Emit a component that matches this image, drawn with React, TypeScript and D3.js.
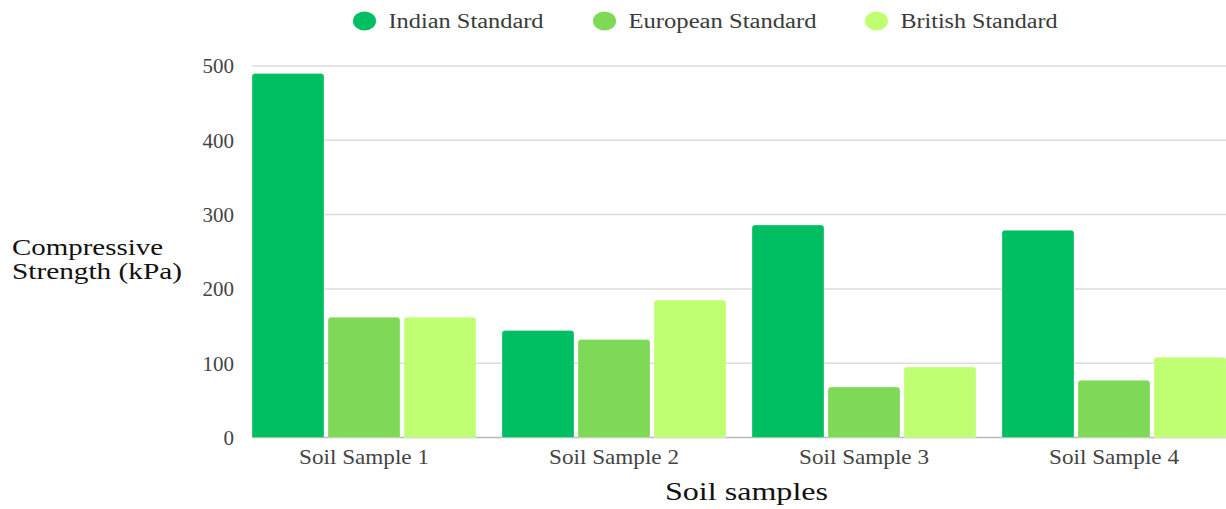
import React from "react";
import * as d3 from "d3";

// Soil samples and the three testing standards
const samples = ["Soil Sample 1", "Soil Sample 2", "Soil Sample 3", "Soil Sample 4"];
const standards = ["Indian Standard", "European Standard", "British Standard"];
const indianValues = [490, 144, 286, 279];
const europeanValues = [162, 132, 68, 77];
const britishValues = [162, 185, 95, 108];
const yTicks = [0, 100, 200, 300, 400, 500];

const colors = ["#00bf63", "#7ed957", "#c1ff72"];
const legendTextWidths = [155, 188, 157];
const legendCenters = [364.5, 604.5, 876.5];

const W = 1226;
const H = 509;
const SERIF = "Liberation Serif, Times New Roman, Times, serif";

function topRoundedRect(x: number, y: number, w: number, h: number, r: number) {
  const rr = Math.min(r, h, w / 2);
  return `M${x},${y + h}V${y + rr}Q${x},${y} ${x + rr},${y}H${x + w - rr}Q${x + w},${y} ${x + w},${y + rr}V${y + h}Z`;
}

export default function App() {
  const seriesValues = [indianValues, europeanValues, britishValues];

  const x0 = d3.scaleBand<string>().domain(samples).range([252, 1226]).paddingInner(0.104).paddingOuter(0);
  const x1 = d3.scaleBand<string>().domain(standards).range([0, x0.bandwidth()]).paddingInner(4 / 76).paddingOuter(0);
  const y = d3.scaleLinear().domain([0, 500]).range([437.5, 66]);

  return (
    <svg width={W} height={H} style={{ position: "absolute", left: 0, top: 0, background: "#fff" }}>
      {/* grid */}
      {yTicks.map((t) => (
        <line
          key={"g" + t}
          x1={252}
          x2={1226}
          y1={y(t)}
          y2={y(t)}
          stroke={t === 0 ? "#b8b8b8" : "#dcdcdc"}
          strokeWidth={1.5}
        />
      ))}
      {/* y tick labels */}
      {yTicks.map((t) => (
        <text
          key={"t" + t}
          x={234}
          y={y(t)}
          dy="0.35em"
          textAnchor="end"
          fontFamily={SERIF}
          fontSize={21}
          fill="#444"
        >
          {t}
        </text>
      ))}
      {/* bars */}
      {samples.map((s, i) => (
        <g key={s} transform={`translate(${x0(s)},0)`}>
          {standards.map((st, j) => {
            const v = seriesValues[j][i];
            const bx = x1(st) as number;
            return (
              <path
                key={st}
                d={topRoundedRect(bx, y(v), x1.bandwidth(), y(0) - y(v), 3)}
                fill={colors[j]}
                stroke="#ffffff"
                strokeOpacity={0.5}
                strokeWidth={0.6}
              />
            );
          })}
        </g>
      ))}
      {/* category labels */}
      {samples.map((s) => (
        <text
          key={"c" + s}
          x={(x0(s) as number) + x0.bandwidth() / 2}
          y={464}
          textAnchor="middle"
          fontFamily={SERIF}
          fontSize={22}
          fill="#444"
          textLength={130}
          lengthAdjust="spacingAndGlyphs"
        >
          {s}
        </text>
      ))}
      {/* axis titles */}
      <text x={665} y={500} fontFamily={SERIF} fontSize={25} fill="#111" textLength={163} lengthAdjust="spacingAndGlyphs">
        Soil samples
      </text>
      <text x={12} y={255} fontFamily={SERIF} fontSize={24} fill="#111" textLength={151} lengthAdjust="spacingAndGlyphs">
        Compressive
      </text>
      <text x={12} y={279} fontFamily={SERIF} fontSize={24} fill="#111" textLength={170} lengthAdjust="spacingAndGlyphs">
        Strength (kPa)
      </text>
      {/* legend */}
      {standards.map((st, j) => (
        <g key={"l" + st}>
          <ellipse cx={legendCenters[j]} cy={21} rx={11.5} ry={9.5} fill={colors[j]} />
          <text
            x={legendCenters[j] + 24}
            y={27.5}
            fontFamily={SERIF}
            fontSize={20}
            fill="#3a3a3a"
            textLength={legendTextWidths[j]}
            lengthAdjust="spacingAndGlyphs"
          >
            {st}
          </text>
        </g>
      ))}
    </svg>
  );
}
